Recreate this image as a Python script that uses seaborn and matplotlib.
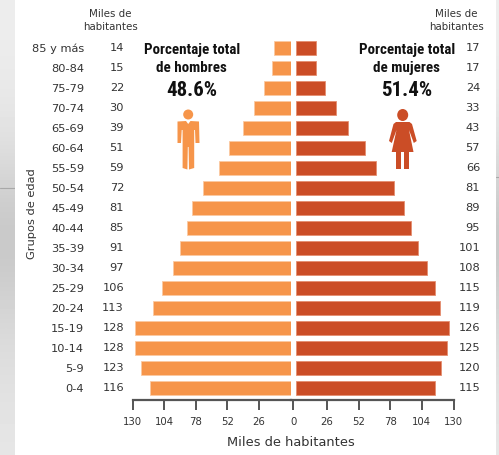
import matplotlib
matplotlib.use("Agg")
import matplotlib.pyplot as plt
from matplotlib import font_manager as fm
from matplotlib.patches import Circle, Ellipse, Polygon, Rectangle
import numpy as np
import seaborn as sns

ages = ["85 y más", "80-84", "75-79", "70-74", "65-69", "60-64", "55-59", "50-54", "45-49",
        "40-44", "35-39", "30-34", "25-29", "20-24", "15-19", "10-14", "5-9", "0-4"]
men = [14, 15, 22, 30, 39, 51, 59, 72, 81, 85, 91, 97, 106, 113, 128, 128, 123, 116]
women = [17, 17, 24, 33, 43, 57, 66, 81, 89, 95, 101, 108, 115, 119, 126, 125, 120, 115]
ticks = [130, 104, 78, 52, 26]
strip_greys = [0.93, 0.92, 0.90, 0.86, 0.80, 0.78, 0.82, 0.86, 0.88, 0.90]
MEN_C, WOMEN_C = "#F6954A", "#CB4D26"
TXT = "#333333"

sns.set_theme(style="white")
W, H = 499, 455
fig = plt.figure(figsize=(W / 100, H / 100), dpi=100, facecolor="#e0e0e0")
names = {f.name for f in fm.fontManager.ttflist}
COND = next((n for n in ("Liberation Sans Narrow", "Roboto Condensed", "Open Sans Condensed", "Roboto")
             if n in names), "Liberation Sans")

def box(x0, x1, ytop, ybot):
    return [x0 / W, 1 - ybot / H, (x1 - x0) / W, (ybot - ytop) / H]

bg = fig.add_axes([0, 0, 1, 1], zorder=0)
bg.imshow(np.array(strip_greys).reshape(-1, 1), cmap="gray", vmin=0, vmax=1,
          extent=(0, W, H, 0), aspect="auto", interpolation="bicubic")
bg.set_xlim(0, W); bg.set_ylim(H, 0); bg.axis("off")
bg.plot([0, 15], [188, 188], color="#a8a8a8", lw=0.8)
bg.plot([496, W], [177, 177], color="#a8a8a8", lw=0.8)
bg.add_patch(Rectangle((15, 0), 481, H, fc="white", ec="none", zorder=3))

AX_TOP, AX_BOT = 38, 400
XL, XM, XR = 132.7, 290.6, 453.5
GAP = 130 * 5 / (XR - XM - 5)

axL = fig.add_axes(box(XL, XM, AX_TOP, AX_BOT), zorder=1, facecolor="none")
axR = fig.add_axes(box(XM, XR, AX_TOP, AX_BOT), zorder=1, facecolor="none")
sns.barplot(x=men, y=ages, order=ages, color=MEN_C, saturation=1, width=0.72, ax=axL,
            edgecolor="#FBC9A2", linewidth=0.6)
sns.barplot(x=women, y=ages, order=ages, color=WOMEN_C, saturation=1, width=0.72, ax=axR,
            edgecolor="#E58E70", linewidth=0.6)

axL.set_xlim(130, 0)
axR.set_xlim(-GAP, 130)
for ax in (axL, axR):
    ax.set_ylim(17.6, -0.5)
    ax.set_xlabel(""); ax.set_ylabel("")
    for s in ("top", "left", "right"):
        ax.spines[s].set_visible(False)
    ax.spines["bottom"].set_color("#555555")
    ax.spines["bottom"].set_linewidth(1.6)
    ax.tick_params(axis="x", length=7, width=1.4, color="#555555", pad=5,
                   labelsize=7.3, labelcolor=TXT, bottom=True)
axL.set_xticks(ticks); axL.set_xticklabels([str(t) for t in ticks])
right_ticks = ticks[::-1]
axR.set_xticks([-GAP / 2] + right_ticks)
axR.set_xticklabels(["0"] + [str(t) for t in right_ticks])
axR.set_yticks([])
axL.tick_params(axis="y", length=0, pad=35, labelsize=8.2, labelcolor=TXT, left=False)

for i, (m, w) in enumerate(zip(men, women)):
    axL.annotate(str(m), (0, i), xycoords=axL.get_yaxis_transform(), xytext=(-8.7, 0),
                 textcoords="offset pixels", ha="right", va="center", fontsize=8.2, color=TXT)
    axR.annotate(str(w), (1, i), xycoords=axR.get_yaxis_transform(), xytext=(26.5, 0),
                 textcoords="offset pixels", ha="right", va="center", fontsize=8.2, color=TXT)

txt = fig.add_axes([0, 0, 1, 1], zorder=2, facecolor="none")
txt.set_xlim(0, W); txt.set_ylim(H, 0); txt.axis("off")
def t(x, y, s, **kw):
    txt.text(x, y, s, ha="center", va="center", **kw)

for cx in (110.5, 456.7):
    t(cx, 14, "Miles de", fontsize=7.4, color=TXT)
    t(cx, 27, "habitantes", fontsize=7.4, color=TXT)
t(291, 442, "Miles de habitantes", fontsize=9.4, color=TXT)
t(32, 214, "Grupos de edad", fontsize=8.2, color=TXT, rotation=90)

for cx, l1, l2, pct in ((191.7, "Porcentaje total", "de hombres", "48.6%"),
                        (406.7, "Porcentaje total", "de mujeres", "51.4%")):
    t(cx, 50, l1, fontsize=10.8, fontweight="bold", family=COND, color="#111111")
    t(cx, 68, l2, fontsize=10.8, fontweight="bold", family=COND, color="#111111")
    t(cx, 91, pct, fontsize=15, fontweight="bold", family=COND, color="#111111")

# man pictogram
txt.add_patch(Circle((188.2, 114.5), 5, fc=MEN_C, ec="none"))
txt.add_patch(Polygon([(177.5, 121.5), (186, 121), (188.2, 124), (190.5, 121), (199, 121.5),
                       (199.5, 143), (195.5, 143), (195, 130), (194.2, 130), (194.2, 168),
                       (189, 169.5), (188.6, 147), (187.8, 147), (187.4, 169.5), (182.6, 168),
                       (182.6, 130), (181.7, 130), (181, 143), (177.5, 143)],
                      fc=MEN_C, ec="none"))
# woman pictogram
txt.add_patch(Ellipse((402.7, 115), 11, 12, fc=WOMEN_C, ec="none"))
txt.add_patch(Polygon([(396, 122), (409.5, 122), (412, 124), (416.7, 141), (413.8, 143),
                       (409, 130), (413.5, 152), (391.7, 152), (396.5, 130), (391.8, 143),
                       (389, 141), (393.5, 124)], fc=WOMEN_C, ec="none"))
txt.add_patch(Rectangle((396.3, 151), 5.2, 17.5, fc=WOMEN_C, ec="none"))
txt.add_patch(Rectangle((404, 151), 5.2, 17.5, fc=WOMEN_C, ec="none"))

fig.savefig("out.png", dpi=100, facecolor=fig.get_facecolor())
